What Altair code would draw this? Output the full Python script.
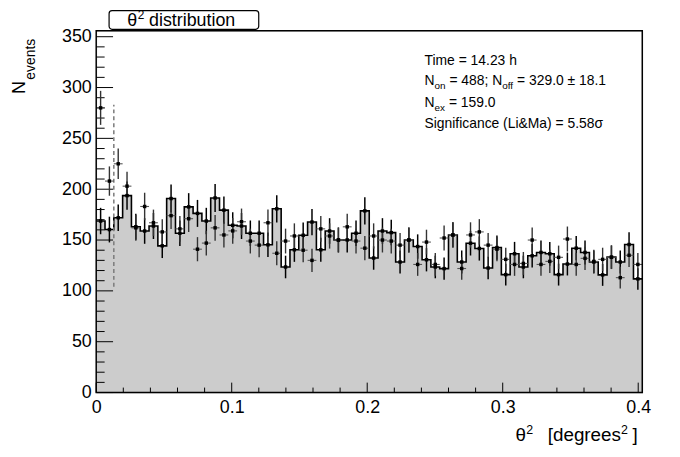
import altair as alt
import pandas as pd
import numpy as np

FONT = "Liberation Sans"

# ---------------- data ----------------
BIN_WIDTH = 0.0065          # theta^2 bin width (62 bins, 0 .. 0.403)
OFF = [168.7, 160.3, 171.9, 193.7, 163.1, 158.9, 163.8, 144.3, 190.8, 156.7,
       182.6, 176.2, 168.7, 191.4, 179.4, 164.5, 163.8, 156.7, 156.7, 145.3,
       180.7, 123.5, 140.4, 154.7, 167.7, 140.4, 158.9, 150.1, 150.1, 156.7,
       178.7, 132.3, 158.9, 157.3, 128.4, 150.1, 143.6, 130.6, 123.5, 121.9,
       155.0, 128.4, 146.9, 141.7, 122.5, 142.6, 116.0, 136.5, 123.5, 134.5,
       137.8, 136.5, 116.0, 126.4, 142.0, 137.8, 128.4, 115.7, 133.2, 128.4,
       145.6, 111.8]
ON = [280, 208, 225, 203, 162, 183, 167, 158, 174, 161,
      171, 141, 147, 162, 155, 159, 168, 149, 145, 167,
      137, 149, 154, 140, 130, 161, 154, 150, 163, 149,
      142, 154, 150, 149, 145, 150, 126, 148, 126, 152,
      155, 122, 155, 158, 145, 141, 131, 126, 127, 150,
      126, 129, 133, 151, 126, 132, 129, 131, 133, 113,
      135, 126]
CUT_X = [0.013]
CUT_Y1 = [104]
CUT_Y2 = [283]

X_DOMAIN = [0, 0.403]
Y_DOMAIN = [0, 355.8]
X_MAJOR = [0, 0.1, 0.2, 0.3, 0.4]
X_MINOR = [round(0.02 * k, 2) for k in range(1, 21) if k % 5]
Y_MAJOR = list(range(0, 351, 50))
Y_MINOR = [v for v in range(10, 351, 10) if v % 50]

# ---------------- tables ----------------
n = len(OFF)
lo = np.arange(n) * BIN_WIDTH
df = pd.DataFrame({"lo": lo, "hi": lo + BIN_WIDTH, "mid": lo + BIN_WIDTH / 2,
                   "off": OFF, "on": ON})
df["off_lo"] = df["off"] - np.sqrt(df["off"])
df["off_hi"] = df["off"] + np.sqrt(df["off"])
df["on_lo"] = df["on"] - np.sqrt(df["on"])
df["on_hi"] = df["on"] + np.sqrt(df["on"])

step = pd.DataFrame({"edge": list(lo) + [n * BIN_WIDTH], "val": OFF + [OFF[-1]]})
cut = pd.DataFrame({"x": CUT_X, "y1": CUT_Y1, "y2": CUT_Y2})
xmaj = pd.DataFrame({"v": X_MAJOR})
xmin = pd.DataFrame({"v": X_MINOR})
ymaj = pd.DataFrame({"v": Y_MAJOR})
ymin = pd.DataFrame({"v": Y_MINOR})
ONE = pd.DataFrame({"a": [0]})

W, H = 551, 365

xs = alt.Scale(domain=X_DOMAIN, nice=False, zero=False)
ys = alt.Scale(domain=Y_DOMAIN, nice=False, zero=False)
XAX = alt.Axis(values=X_MAJOR, format="~g", title="", ticks=False, domain=False,
               grid=False, labelFont=FONT, labelFontSize=18, labelColor="black",
               labelPadding=6, labelFlush=False, labelOverlap=False)
YAX = alt.Axis(values=Y_MAJOR, format="d", title="", ticks=False, domain=False,
               grid=False, labelFont=FONT, labelFontSize=18, labelColor="black",
               labelPadding=5, labelOverlap=False)


def X(f):
    return alt.X(f, scale=xs, axis=XAX)


def Y(f):
    return alt.Y(f, scale=ys, axis=YAX)


fill = alt.Chart(step).mark_area(interpolate="step-after", color="#cccccc",
                                 opacity=1).encode(x=X("edge:Q"), y=Y("val:Q"), y2=alt.datum(0))

outline = alt.Chart(step).mark_line(interpolate="step-after", color="black",
                                    strokeWidth=1.6).encode(x=X("edge:Q"), y=Y("val:Q"))

ytick_maj = alt.Chart(ymaj).mark_rule(color="black", strokeWidth=1).encode(
    y=Y("v:Q"), x=alt.value(0), x2=alt.value(17))
ytick_min = alt.Chart(ymin).mark_rule(color="black", strokeWidth=1).encode(
    y=Y("v:Q"), x=alt.value(0), x2=alt.value(8.5))
xtick_maj = alt.Chart(xmaj).mark_rule(color="black", strokeWidth=1).encode(
    x=X("v:Q"), y=alt.value(H), y2=alt.value(H - 10))
xtick_min = alt.Chart(xmin).mark_rule(color="black", strokeWidth=1).encode(
    x=X("v:Q"), y=alt.value(H), y2=alt.value(H - 5))

cutline = alt.Chart(cut).mark_rule(color="#7a7a7a", strokeWidth=1.5,
                                   strokeDash=[4, 3]).encode(
    x=X("x:Q"), y=Y("y1:Q"), y2="y2:Q")

off_err = alt.Chart(df).mark_rule(color="black", strokeWidth=1.5).encode(
    x=X("mid:Q"), y=Y("off_lo:Q"), y2="off_hi:Q")
on_err = alt.Chart(df).mark_rule(color="#333333", strokeWidth=1.4).encode(
    x=X("mid:Q"), y=Y("on_lo:Q"), y2="on_hi:Q")
on_hbar = alt.Chart(df).mark_rule(color="#555555", strokeWidth=1.1).encode(
    x=X("lo:Q"), x2="hi:Q", y=Y("on:Q"))
off_pt = alt.Chart(df).mark_square(size=12, color="black", opacity=1).encode(
    x=X("mid:Q"), y=Y("off:Q"))
on_pt = alt.Chart(df).mark_square(size=12, color="black", opacity=1).encode(
    x=X("mid:Q"), y=Y("on:Q"))

frame = alt.Chart(ONE).mark_rect(fillOpacity=0, stroke="black", strokeWidth=1.5).encode(
    x=alt.value(0), x2=alt.value(W), y=alt.value(0), y2=alt.value(H))


def txt(s, x, y, size, align="left", angle=0, baseline="alphabetic"):
    return alt.Chart(ONE).mark_text(text=s, font=FONT, fontSize=size, align=align,
                                    baseline=baseline, angle=angle, color="black").encode(
        x=alt.value(x), y=alt.value(y))


title_box = alt.Chart(ONE).mark_rect(fill="white", stroke="black", strokeWidth=1.2,
                                     cornerRadius=3).encode(
    x=alt.value(13), x2=alt.value(164), y=alt.value(-20.3), y2=alt.value(-1.5))

texts = [
    # title
    txt("θ", 31.3, -5, 18),
    txt("2", 42, -12, 12),
    txt("distribution", 53.3, -5, 18),
    # y title
    txt("N", -72, 63.7, 18, angle=270),
    txt("events", -62, 49.3, 14, angle=270),
    # x title
    txt("θ", 423, 414, 19),
    txt("2", 434, 407, 12.5),
    txt("[degrees", 529.5, 414, 19, align="right"),
    txt("2", 536.5, 407, 12.5, align="right"),
    txt("]", 546.3, 414, 19, align="right"),
    # info box
    txt("Time = 14.23 h", 331.3, 34, 14),
    txt("N", 331.3, 55, 14),
    txt("on", 341.4, 58.5, 10),
    txt("= 488;", 356.4, 55, 14),
    txt("N", 399.6, 55, 14),
    txt("off", 409.7, 58.5, 10),
    txt("= 329.0 ± 18.1", 424.7, 55, 14),
    txt("N", 331.3, 77, 14),
    txt("ex", 341.4, 80.5, 10),
    txt("= 159.0", 355.9, 77, 14),
    txt("Significance (Li&Ma) = 5.58σ", 331.3, 98, 14),
]

chart = alt.layer(
    fill, outline, ytick_maj, ytick_min, xtick_maj, xtick_min, cutline,
    on_hbar, off_err, on_err, off_pt, on_pt, frame, title_box, *texts
).properties(
    width=W, height=H,
    padding={"left": 89, "top": 21, "right": 30, "bottom": 60},
    autosize=alt.AutoSizeParams(type="none"),
    background="white",
).configure_view(stroke="transparent").configure(font=FONT)

chart.save("out.html", embed_options={"renderer": "svg", "actions": False})
